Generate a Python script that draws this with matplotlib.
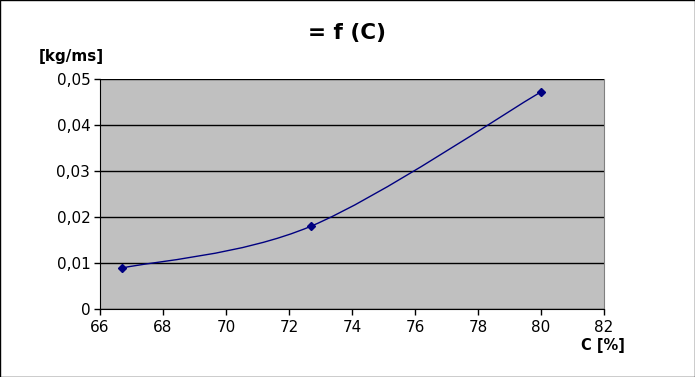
import matplotlib
matplotlib.use("Agg")
import matplotlib.pyplot as plt
import numpy as np
from matplotlib.path import Path
from matplotlib.patches import PathPatch, Rectangle
from matplotlib.ticker import FuncFormatter

c = [66.7, 72.7, 80.0]          # C [%]
val = [0.0089, 0.0180, 0.0472]  # [kg/ms]
xticks = [66, 68, 70, 72, 74, 76, 78, 80, 82]
yticks = [0, 0.01, 0.02, 0.03, 0.04, 0.05]

fig = plt.figure(figsize=(6.95, 3.77), dpi=100)
ax = fig.add_axes([0.1439, 0.1804, 0.7252, 0.6101])
ax.set_facecolor("#c0c0c0")

# smooth line (catmull-rom as bezier) through the points, like the office chart
pts = np.column_stack([c, val])
ext = np.vstack([pts[0], pts, pts[-1]])
verts = [tuple(pts[0])]
codes = [Path.MOVETO]
for i in range(1, len(ext) - 2):
    p0, p1, p2, p3 = ext[i - 1], ext[i], ext[i + 1], ext[i + 2]
    verts += [tuple(p1 + (p2 - p0) / 6), tuple(p2 - (p3 - p1) / 6), tuple(p2)]
    codes += [Path.CURVE4] * 3
ax.add_patch(PathPatch(Path(verts, codes), fill=False, edgecolor="#000080", lw=1, zorder=3))
ax.plot(c, val, linestyle="none", marker="D", markersize=4.5, color="#000080", zorder=4)

ax.set_xlim(66, 82)
ax.set_ylim(0, 0.05)
ax.set_xticks(xticks)
ax.set_yticks(yticks)
ax.yaxis.set_major_formatter(FuncFormatter(lambda v, p: "0" if v == 0 else ("%.2f" % v).replace(".", ",")))
ax.tick_params(direction="out", length=4, width=1, labelsize=11, colors="black", pad=3)
ax.tick_params(axis="x", pad=4)
ax.yaxis.grid(True, color="black", lw=1)
ax.set_axisbelow(True)
ax.spines["top"].set_visible(False)
ax.spines["right"].set_color("#808080")

fig.text(0.5, 0.913, "= f (C)", ha="center", va="center", fontsize=15.5, fontweight="bold")
fig.text(0.103, 0.849, "[kg/ms]", ha="center", va="center", fontsize=11, fontweight="bold")
fig.text(0.868, 0.084, "C [%]", ha="center", va="center", fontsize=10.5, fontweight="bold")

fig.patches.append(Rectangle((0.0007, 0.0013), 0.9986, 0.9974, transform=fig.transFigure,
                             fill=False, edgecolor="black", lw=1))

fig.savefig("out.png", dpi=100)
